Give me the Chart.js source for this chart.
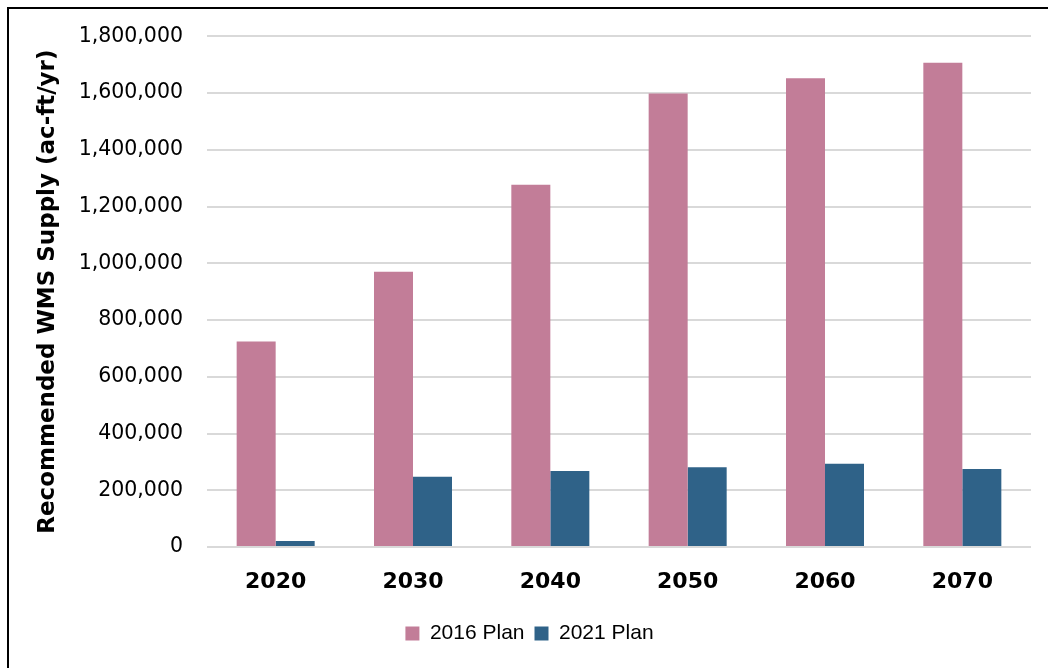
<!DOCTYPE html>
<html>
<head>
<meta charset="utf-8">
<script src="https://cdn.jsdelivr.net/npm/chart.js@4"></script>
<style>
  html, body { margin: 0; padding: 0; background: #fff; }
  #wrap { position: relative; width: 1048px; height: 668px; overflow: hidden; }
  #frame { position: absolute; left: 7px; top: 7px; width: 1100px; height: 700px;
           border: 2px solid #000; pointer-events: none; }
  canvas { position: absolute; left: 0; top: 0; }
</style>
</head>
<body>
<div id="wrap">
  <canvas id="myChart" width="1048" height="668"></canvas>
  <div id="frame"></div>
</div>
<script>
// Dataset
const years = ["2020", "2030", "2040", "2050", "2060", "2070"];
const plan2016 = [724000, 970000, 1277000, 1598000, 1652000, 1707000];
const plan2021 = [21000, 248000, 268000, 281000, 293000, 275000];

const data = {
  labels: years,
  datasets: [
    {
      label: "2016 Plan",
      data: plan2016,
      backgroundColor: "#c27d98",
    },
    {
      label: "2021 Plan",
      data: plan2021,
      backgroundColor: "#2f6288",
    },
  ],
};

// Style Configurations
const config = {
  type: "bar",
  data: data,
  options: {
    responsive: false,
    animation: false,
    categoryPercentage: 0.568,
    barPercentage: 1.0,
    layout: {
      padding: { left: 28, right: 17, top: 36, bottom: 14 },
    },
    plugins: {
      legend: {
        position: "bottom",
        labels: {
          boxWidth: 14,
          boxHeight: 14,
          padding: 10,
          color: "#000",
          font: { family: "Liberation Sans", size: 21 },
        },
      },
      tooltip: { enabled: false },
    },
    scales: {
      x: {
        grid: { display: false },
        border: { display: false },
        ticks: {
          color: "#000",
          padding: 14,
          font: { family: "DejaVu Sans", size: 22, weight: "bold" },
        },
        afterFit: (scale) => { scale.height = 66; },
      },
      y: {
        min: 0,
        max: 1800000,
        border: { display: false },
        grid: { color: "#d9d9d9", lineWidth: 2, drawTicks: false },
        ticks: {
          stepSize: 200000,
          color: "#000",
          padding: 24,
          font: { family: "DejaVu Sans", size: 20.5 },
          callback: (v) => v.toLocaleString("en-US"),
        },
        title: {
          display: true,
          text: "Recommended WMS Supply (ac-ft/yr)",
          color: "#000",
          padding: { top: 6, bottom: 0 },
          font: { family: "DejaVu Sans", size: 23, weight: "bold" },
        },
        afterFit: (scale) => { scale.width = 179; },
      },
    },
  },
};

// Plotting
let ctx = document.getElementById("myChart").getContext("2d");
let barChart = new Chart(ctx, config);
</script>
</body>
</html>
